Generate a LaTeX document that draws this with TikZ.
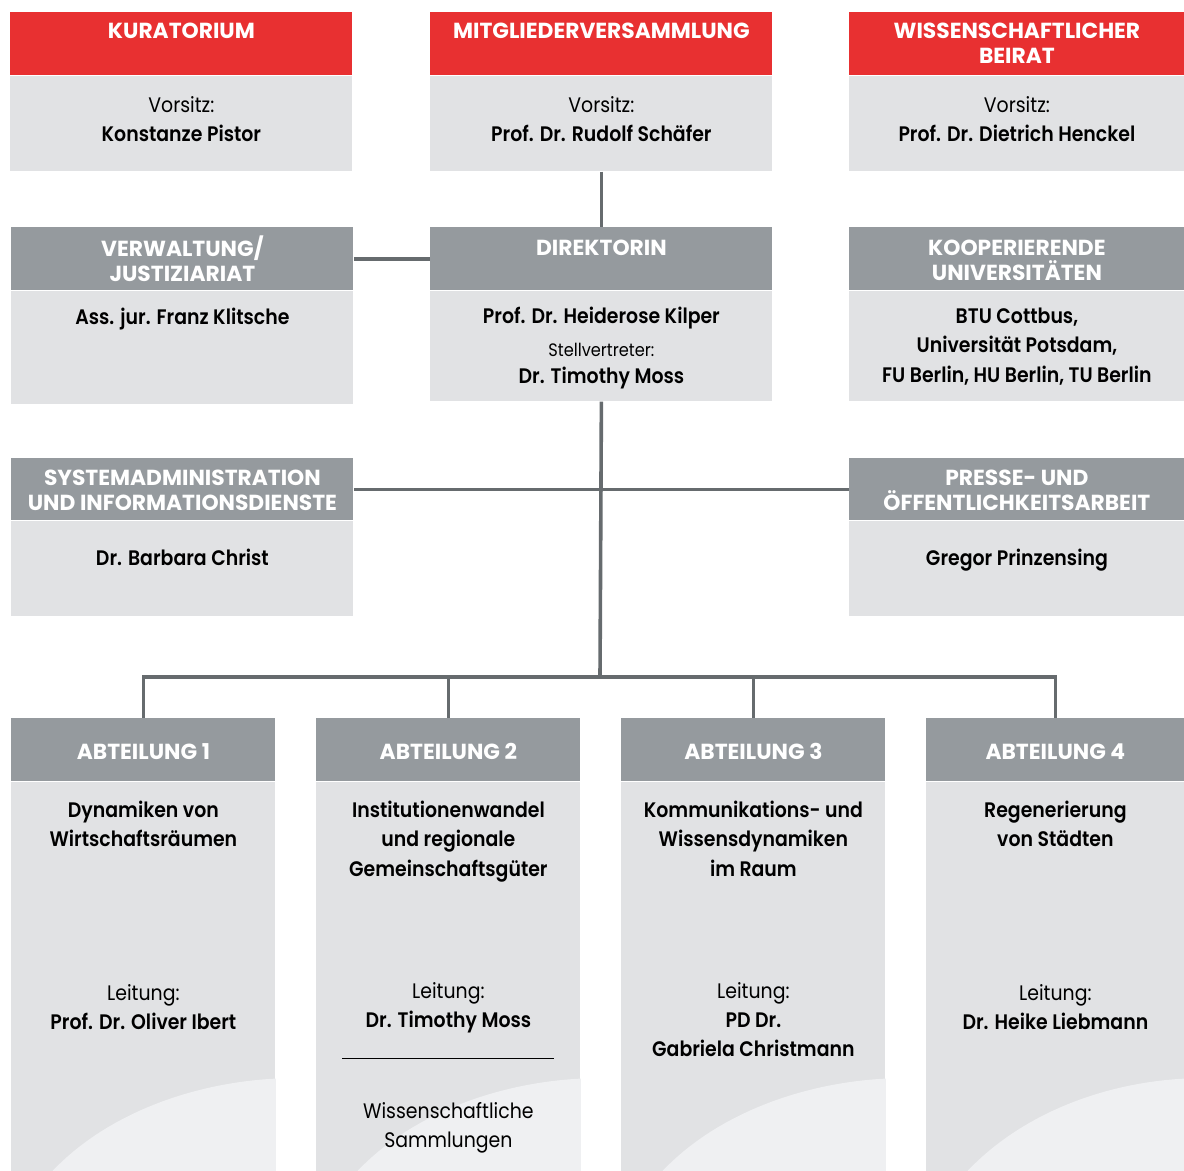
\documentclass[tikz,border=0pt]{standalone}
\usepackage{fontspec}
\setmainfont{Poppins}[BoldFont={Poppins SemiBold}, FakeStretch=0.9]
\newfontfamily\headfont{Poppins}[BoldFont={Poppins Bold}]
\usetikzlibrary{positioning}
\definecolor{boxred}{RGB}{232,48,49}
\definecolor{headgrey}{RGB}{149,154,158}
\definecolor{bodygrey}{RGB}{225,226,228}
\definecolor{curvegrey}{RGB}{239,240,242}
\definecolor{linegrey}{RGB}{102,107,110}

\begin{document}
\begin{tikzpicture}[
  x=0.5pt, y=-0.5pt,
  head/.style={fill=headgrey, inner sep=0pt, minimum height=31.5pt, anchor=north west},
  redhead/.style={head, fill=boxred},
  body/.style={fill=bodygrey, inner sep=0pt},
  title/.style={text=white, font=\headfont\bfseries\fontsize{10.9}{12.5}\selectfont, align=center, inner sep=0pt, anchor=north},
  info/.style={font=\fontsize{10.5}{14.6}\selectfont, align=center, inner sep=0pt, anchor=north},
  link/.style={draw=linegrey, line width=1.8pt}
]
\useasboundingbox (0,0) rectangle (1184,1171);

% Gremien
\node[redhead, minimum width=171pt] (kurhead) at (10,12) {};
\node[body, minimum width=171pt, minimum height=47.5pt, below=0pt of kurhead] (kur) {};
\node[title] at ([yshift=-5.5pt]kurhead.north) {KURATORIUM};
\node[info] at ([yshift=-10pt]kur.north) {Vorsitz:\\\textbf{Konstanze Pistor}};

\node[redhead, minimum width=171pt] (mvhead) at (430,12) {};
\node[body, minimum width=171pt, minimum height=47.5pt, below=0pt of mvhead] (mv) {};
\node[title] at ([yshift=-5.5pt]mvhead.north) {MITGLIEDERVERSAMMLUNG};
\node[info] at ([yshift=-10pt]mv.north) {Vorsitz:\\\textbf{Prof. Dr. Rudolf Schäfer}};

\node[redhead, minimum width=167.5pt] (beirathead) at (849,12) {};
\node[body, minimum width=167.5pt, minimum height=47.5pt, below=0pt of beirathead] (beirat) {};
\node[title] at ([yshift=-5.5pt]beirathead.north) {WISSENSCHAFTLICHER\\BEIRAT};
\node[info] at ([yshift=-10pt]beirat.north) {Vorsitz:\\\textbf{Prof. Dr. Dietrich Henckel}};

% Leitung
\node[head, minimum width=171pt] (verwhead) at (11,227) {};
\node[body, minimum width=171pt, minimum height=56.5pt, below=0pt of verwhead] (verw) {};
\node[title] at ([yshift=-4pt]verwhead.north) {VERWALTUNG/\\JUSTIZIARIAT};
\node[info] at ([yshift=-8.5pt]verw.north) {\textbf{Ass. jur. Franz Klitsche}};

\node[head, minimum width=171pt] (dirhead) at (430,227) {};
\node[body, minimum width=171pt, minimum height=55pt, below=0pt of dirhead] (dir) {};
\node[title] at ([yshift=-6.5pt]dirhead.north) {DIREKTORIN};
\node[info] at ([yshift=-8pt]dir.north) {\textbf{Prof. Dr. Heiderose Kilper}\\[2pt]
  {\fontsize{9}{12}\selectfont Stellvertreter:}\\[-1.5pt]\textbf{Dr. Timothy Moss}};

\node[head, minimum width=167.5pt] (koophead) at (849,227) {};
\node[body, minimum width=167.5pt, minimum height=55pt, below=0pt of koophead] (koop) {};
\node[title] at ([yshift=-6.5pt]koophead.north) {KOOPERIERENDE\\UNIVERSITÄTEN};
\node[info] at ([yshift=-8.5pt]koop.north) {\textbf{BTU Cottbus,}\\\textbf{Universität Potsdam,}\\\textbf{FU Berlin, HU Berlin, TU Berlin}};

% Stabsstellen
\node[head, minimum width=171pt, minimum height=31pt] (syshead) at (11,458) {};
\node[body, minimum width=171pt, minimum height=47.5pt, below=0pt of syshead] (sys) {};
\node[title] at ([yshift=-6pt]syshead.north) {SYSTEMADMINISTRATION\\UND INFORMATIONSDIENSTE};
\node[info] at ([yshift=-14pt]sys.north) {\textbf{Dr. Barbara Christ}};

\node[head, minimum width=167.5pt, minimum height=31pt] (pressehead) at (849,458) {};
\node[body, minimum width=167.5pt, minimum height=47.5pt, below=0pt of pressehead] (presse) {};
\node[title] at ([yshift=-6pt]pressehead.north) {PRESSE- UND\\ÖFFENTLICHKEITSARBEIT};
\node[info] at ([yshift=-14pt]presse.north) {\textbf{Gregor Prinzensing}};

% Abteilungen
\node[head, minimum width=132pt] (abt1head) at (11,718) {};
\node[body, minimum width=132pt, minimum height=195pt, below=0pt of abt1head] (abt1) {};
\node[head, minimum width=132pt] (abt2head) at (316,718) {};
\node[body, minimum width=132pt, minimum height=195pt, below=0pt of abt2head] (abt2) {};
\node[head, minimum width=132pt] (abt3head) at (621,718) {};
\node[body, minimum width=132pt, minimum height=195pt, below=0pt of abt3head] (abt3) {};
\node[head, minimum width=129pt] (abt4head) at (926,718) {};
\node[body, minimum width=129pt, minimum height=195pt, below=0pt of abt4head] (abt4) {};

% helle Boegen
\begin{scope}
  \clip (abt1.north west) rectangle (abt1.south east);
  \fill[curvegrey] ([xshift=20pt]abt1.south west) .. controls ([xshift=48pt,yshift=30pt]abt1.south west) and ([xshift=92pt,yshift=45pt]abt1.south west) .. ([yshift=47pt]abt1.south east) -- (abt1.south east) -- cycle;
\end{scope}
\begin{scope}
  \clip (abt2.north west) rectangle (abt2.south east);
  \fill[curvegrey] ([xshift=20pt]abt2.south west) .. controls ([xshift=48pt,yshift=30pt]abt2.south west) and ([xshift=92pt,yshift=45pt]abt2.south west) .. ([yshift=47pt]abt2.south east) -- (abt2.south east) -- cycle;
\end{scope}
\begin{scope}
  \clip (abt3.north west) rectangle (abt3.south east);
  \fill[curvegrey] ([xshift=20pt]abt3.south west) .. controls ([xshift=48pt,yshift=30pt]abt3.south west) and ([xshift=92pt,yshift=45pt]abt3.south west) .. ([yshift=47pt]abt3.south east) -- (abt3.south east) -- cycle;
\end{scope}
\begin{scope}
  \clip (abt4.north west) rectangle (abt4.south east);
  \fill[curvegrey] ([xshift=20pt]abt4.south west) .. controls ([xshift=48pt,yshift=30pt]abt4.south west) and ([xshift=90pt,yshift=45pt]abt4.south west) .. ([yshift=47pt]abt4.south east) -- (abt4.south east) -- cycle;
\end{scope}

\node[title, anchor=center] at ([yshift=-1pt]abt1head.center) {ABTEILUNG 1};
\node[info] at ([yshift=-9.5pt]abt1.north) {\textbf{Dynamiken von}\\\textbf{Wirtschaftsräumen}};
\node[info] (lead1) at ([yshift=-101pt]abt1.north) {Leitung:\\\textbf{Prof. Dr. Oliver Ibert}};

\node[title, anchor=center] at ([yshift=-1pt]abt2head.center) {ABTEILUNG 2};
\node[info] at ([yshift=-9.5pt]abt2.north) {\textbf{Institutionenwandel}\\\textbf{und regionale}\\\textbf{Gemeinschaftsgüter}};
\node[info] (lead2) at ([yshift=-100pt]abt2.north) {Leitung:\\\textbf{Dr. Timothy Moss}};
\draw[line width=0.6pt] ([xshift=-53pt,yshift=57pt]abt2.south) -- ([xshift=53pt,yshift=57pt]abt2.south);
\node[info] (samml) at ([yshift=-160pt]abt2.north) {Wissenschaftliche\\Sammlungen};

\node[title, anchor=center] at ([yshift=-1pt]abt3head.center) {ABTEILUNG 3};
\node[info] at ([yshift=-9.5pt]abt3.north) {\textbf{Kommunikations- und}\\\textbf{Wissensdynamiken}\\\textbf{im Raum}};
\node[info] (lead3) at ([yshift=-100pt]abt3.north) {Leitung:\\\textbf{PD Dr.}\\\textbf{Gabriela Christmann}};

\node[title, anchor=center] at ([yshift=-1pt]abt4head.center) {ABTEILUNG 4};
\node[info] at ([yshift=-9.5pt]abt4.north) {\textbf{Regenerierung}\\\textbf{von Städten}};
\node[info] (lead4) at ([yshift=-101pt]abt4.north) {Leitung:\\\textbf{Dr. Heike Liebmann}};

% Linien
\coordinate (hub) at (600,677);
\draw[link] (mv.south) -- (dirhead.north);
\draw[link] (verwhead.east) -- (dirhead.west);
\draw[link] (syshead.east) -- (pressehead.west);
\draw[link] (dir.south) -- (hub);
\draw[link] (hub) -| (abt1head.north);
\draw[link] (hub) -| (abt2head.north);
\draw[link] (hub) -| (abt3head.north);
\draw[link] (hub) -| (abt4head.north);

\end{tikzpicture}
\end{document}
